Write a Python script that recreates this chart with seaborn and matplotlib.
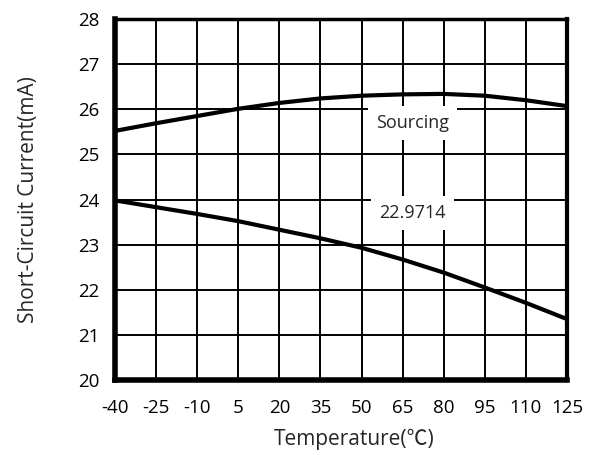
import numpy as np
import pandas as pd
import matplotlib
matplotlib.use("Agg")
import matplotlib.pyplot as plt
import seaborn as sns

temps = [-40, -25, -10, 5, 20, 35, 50, 65, 80, 95, 110, 125]
sourcing = [25.52, 25.69, 25.85, 26.01, 26.14, 26.24, 26.30, 26.33, 26.34, 26.30, 26.20, 26.07]
sinking = [23.98, 23.83, 23.68, 23.52, 23.33, 23.14, 22.93, 22.67, 22.38, 22.05, 21.71, 21.35]
series_names = ["Sourcing", "22.9714"]
yticks = [20, 21, 22, 23, 24, 25, 26, 27, 28]

sns.set_theme(style="white")
plt.rcParams['font.family'] = ['Open Sans', 'DejaVu Sans']

df = pd.DataFrame({
    "Temperature": temps * 2,
    "Current": sourcing + sinking,
    "Series": [series_names[0]] * len(temps) + [series_names[1]] * len(temps),
})

fig = plt.figure(figsize=(5.95, 4.55), dpi=100)
ax = fig.add_axes([115/595, 1 - 380/455, (567-115)/595, (380-19)/455])

sns.lineplot(data=df, x="Temperature", y="Current", hue="Series",
             palette=["black", "black"], linewidth=3.0, legend=False, ax=ax, zorder=4)

ax.set_xlim(-40, 125)
ax.set_ylim(20, 28)
ax.set_xticks(temps)
ax.set_yticks(yticks)
ax.set_xticklabels([str(t) for t in temps], fontsize=13.5)
ax.set_yticklabels([str(v) for v in yticks], fontsize=13.5)
ax.tick_params(length=0, colors="black")
ax.tick_params(axis="x", pad=14)
ax.tick_params(axis="y", pad=11)
ax.grid(True, color="black", linewidth=1.4)
ax.set_axisbelow(True)
for s in ax.spines.values():
    s.set_visible(True)
    s.set_color("black")
ax.spines["left"].set_linewidth(4)
ax.spines["bottom"].set_linewidth(4)
ax.spines["top"].set_linewidth(2.5)
ax.spines["right"].set_linewidth(3)

ax.set_xlabel("Temperature(\u2103)", fontsize=15, labelpad=8,
              family=['Open Sans', 'Noto Sans CJK SC', 'DejaVu Sans'])
ax.xaxis.label.set_x(0.53)
ax.set_ylabel("Short-Circuit Current(mA)", fontsize=15, labelpad=28)

for name, yv in zip(series_names, [25.70, 23.70]):
    ax.text(68.5, yv, name, ha="center", va="center", fontsize=13, zorder=5,
            bbox=dict(facecolor="white", edgecolor="none", boxstyle="square,pad=0.45"))

fig.savefig("out.png", dpi=100)
